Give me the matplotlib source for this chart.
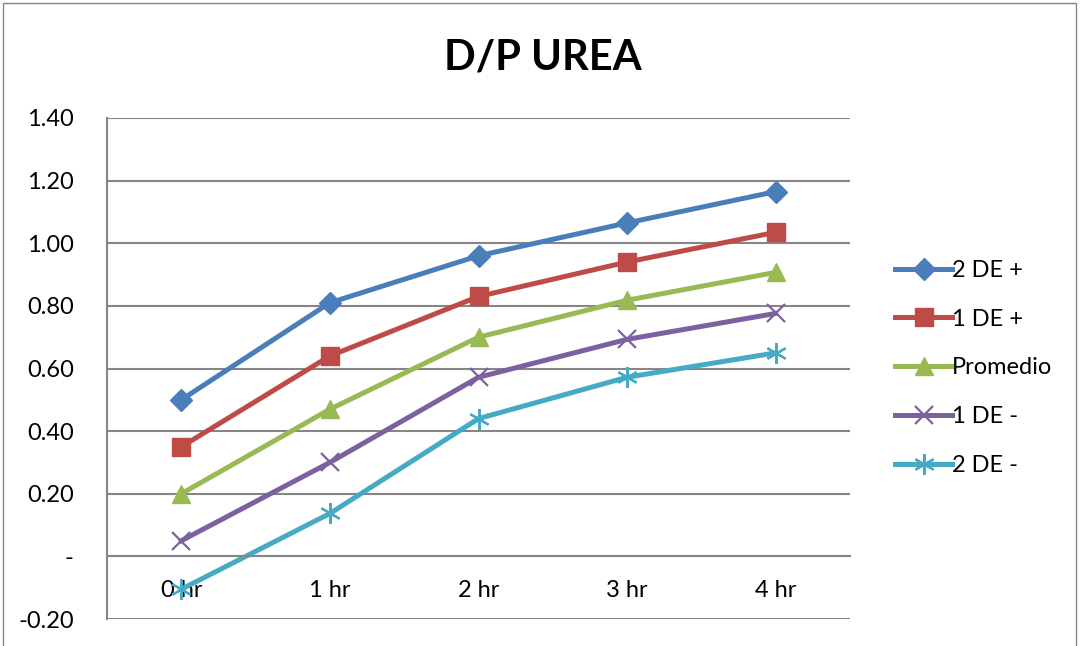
import matplotlib.pyplot as plt
from matplotlib.patches import Rectangle

plt.rcParams['font.family'] = ['Lato', 'DejaVu Sans']

hours = ['0 hr', '1 hr', '2 hr', '3 hr', '4 hr']

de2_plus = [0.50, 0.81, 0.96, 1.065, 1.165]
de1_plus = [0.35, 0.64, 0.83, 0.94, 1.035]
promedio = [0.20, 0.47, 0.70, 0.818, 0.907]
de1_minus = [0.05, 0.30, 0.572, 0.693, 0.776]
de2_minus = [-0.105, 0.137, 0.44, 0.572, 0.65]

yticks = [-0.20, 0.0, 0.20, 0.40, 0.60, 0.80, 1.00, 1.20, 1.40]

fig = plt.figure(figsize=(10.81, 6.46), dpi=100)
ax = fig.add_axes([107/1081, 1 - 619/646, (850-107)/1081, (619-118)/646])

x = range(len(hours))
lw = 3.6
ax.plot(x, de2_plus, color='#4A7EBB', lw=lw, marker='D', ms=11, label='2 DE +')
ax.plot(x, de1_plus, color='#BE4B48', lw=lw, marker='s', ms=13, label='1 DE +')
ax.plot(x, promedio, color='#98B954', lw=lw, marker='^', ms=13, label='Promedio')
ax.plot(x, de1_minus, color='#7D60A0', lw=lw, marker='x', ms=13, mew=1.6, label='1 DE -')
ax.plot(x, de2_minus, color='#46AAC5', lw=lw, marker=(6, 2, 0), ms=15, mew=1.6, label='2 DE -')

ax.set_xlim(-0.5, len(hours) - 0.5)
ax.set_ylim(-0.2, 1.4)
ax.set_yticks(yticks)
ax.set_yticklabels(['-' if abs(v) < 1e-9 else f'{v:.2f}' for v in yticks])
ax.set_xticks(list(x))
ax.set_xticklabels(hours)

ax.grid(axis='y', color='#868686', lw=1.5)
ax.set_axisbelow(True)
for s in ['top', 'right']:
    ax.spines[s].set_visible(False)
ax.spines['left'].set_color('#868686')
ax.spines['left'].set_linewidth(1.5)
ax.spines['bottom'].set_position(('data', 0))
ax.spines['bottom'].set_color('#868686')
ax.spines['bottom'].set_linewidth(1.5)
ax.tick_params(axis='both', length=0, labelsize=17)
ax.tick_params(axis='y', pad=24)
ax.tick_params(axis='x', pad=17)
for lab in ax.get_yticklabels():
    lab.set_horizontalalignment('right')

fig.text(543/1081, 1 - 58/646, 'D/P UREA', ha='center', va='center',
         fontsize=30, fontweight='bold')

fig.legend(loc='center left', bbox_to_anchor=(874/1081, 1 - 368/646),
           frameon=False, fontsize=17, handlelength=2.4, labelspacing=1.18,
           handletextpad=0.0)

fig.patches.append(Rectangle((3/1081, -0.01), 1073/1081, 1.005,
                             transform=fig.transFigure, fill=False,
                             edgecolor='#868686', lw=1))

fig.savefig('out.png', dpi=100)
